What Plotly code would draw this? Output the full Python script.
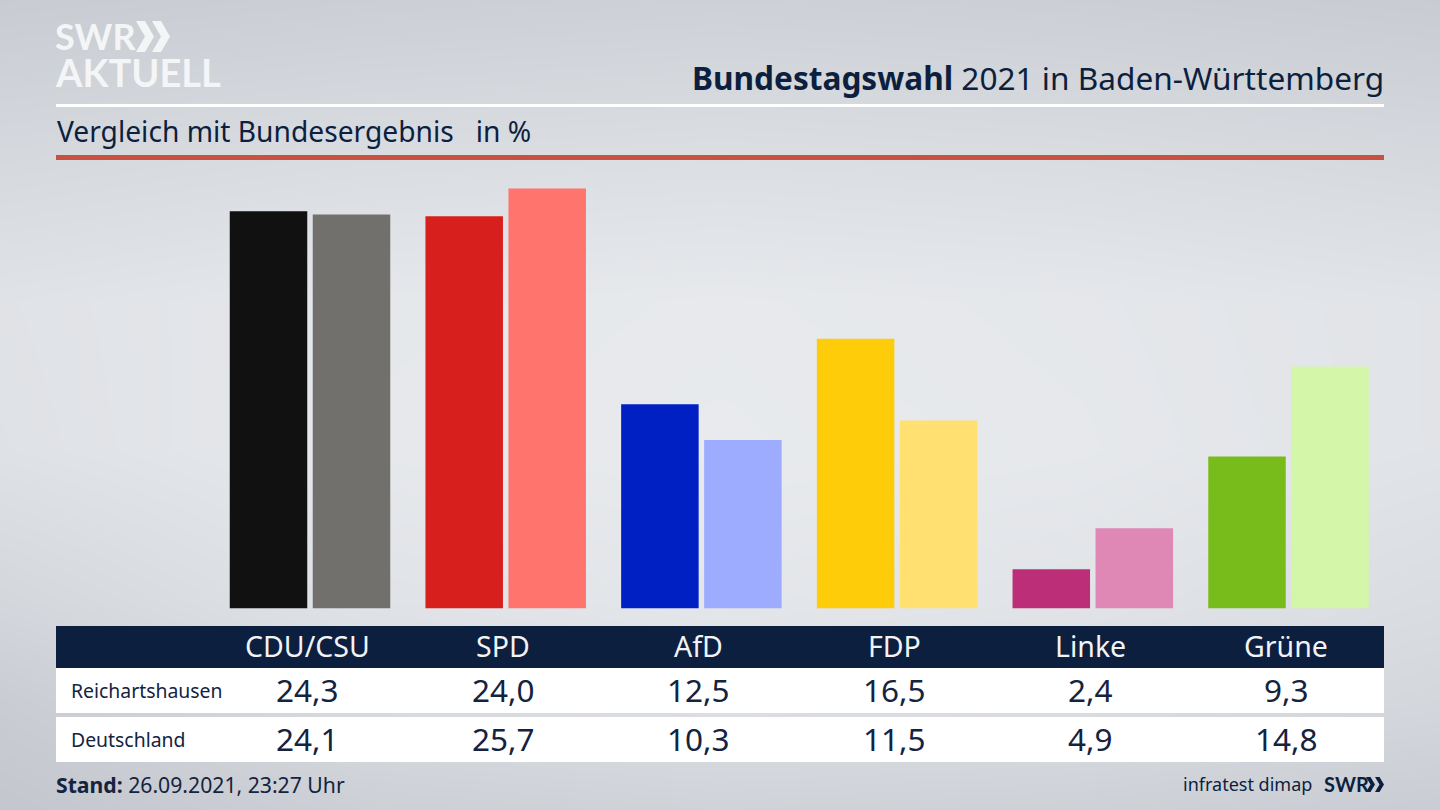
import plotly.graph_objects as go

parties = ["CDU/CSU", "SPD", "AfD", "FDP", "Linke", "Grüne"]
local_name = "Reichartshausen"
national_name = "Deutschland"
local_values = [24.3, 24.0, 12.5, 16.5, 2.4, 9.3]
national_values = [24.1, 25.7, 10.3, 11.5, 4.9, 14.8]
local_colors = ["#111111", "#d71f1d", "#0020c4", "#ffcc09", "#bd2e78", "#78bc1b"]
national_colors = ["#72706c", "#ff746c", "#9dacff", "#ffe070", "#df87b5", "#d3f6a9"]

NAVY = "#0c1f3f"
INK = "#14233f"
FONT = "Noto Sans"
LOGO = "Lato"
W, H = 1440, 810

def px(x):
    return x / W

def py(y):
    return 1 - y / H

# soft studio backdrop (brightness, left to right, top to bottom)
bg_x = [0, 360, 720, 1080, 1440]
bg_y = [0, 150, 300, 450, 600, 700, 810]
bg_z = [
    [203, 206, 208, 206, 203],
    [215, 219, 221, 219, 215],
    [226, 231, 233, 231, 227],
    [225, 232, 234, 232, 227],
    [214, 226, 230, 227, 220],
    [204, 218, 222, 220, 214],
    [198, 207, 210, 208, 204],
]

fig = go.Figure()
fig.add_trace(go.Heatmap(
    x=bg_x, y=bg_y, z=bg_z, zsmooth="best", showscale=False, hoverinfo="skip",
    zmin=190, zmax=240,
    colorscale=[[0, "rgb(187,191,198)"], [1, "rgb(238,240,243)"]],
    xaxis="x", yaxis="y",
))
fig.add_trace(go.Bar(name=local_name, x=parties, y=local_values,
                     marker=dict(color=local_colors, line=dict(width=0)), xaxis="x2", yaxis="y2"))
fig.add_trace(go.Bar(name=national_name, x=parties, y=national_values,
                     marker=dict(color=national_colors, line=dict(width=0)), xaxis="x2", yaxis="y2"))

shapes = []
def rect(x0, y0, x1, y1, color):
    shapes.append(dict(type="rect", xref="paper", yref="paper", x0=px(x0), x1=px(x1),
                       y0=py(y1), y1=py(y0), fillcolor=color, line=dict(width=0), layer="above"))

rect(56, 104, 1384, 107, "#ffffff")
rect(56, 155, 1384, 160, "#c8513f")
rect(56, 626, 1384, 668, NAVY)
rect(56, 668, 1384, 713, "#ffffff")
rect(56, 717, 1384, 762, "#ffffff")

def chevron(x, y, w, h, color):
    pts = [(x, y), (x + w * 0.5, y), (x + w, y + h / 2), (x + w * 0.5, y + h), (x, y + h), (x + w * 0.5, y + h / 2)]
    path = "M " + " L ".join(f"{px(a):.5f},{py(b):.5f}" for a, b in pts) + " Z"
    shapes.append(dict(type="path", xref="paper", yref="paper", path=path, fillcolor=color,
                       line=dict(width=0), layer="above"))

chevron(136, 21, 18, 31, "#f4f5f6")
chevron(152, 21, 18, 31, "#f4f5f6")
chevron(1366, 777, 9, 15, NAVY)
chevron(1375, 777, 9, 15, NAVY)

ann = []
def text(x, y, s, size, color=INK, anchor="left", family=FONT):
    ann.append(dict(x=px(x), y=py(y), xref="paper", yref="paper", text=s, showarrow=False,
                    xanchor=anchor, yanchor="middle", align=anchor, borderpad=0, borderwidth=0,
                    font=dict(size=size, color=color, family=family)))

text(55, 36, "<b>SWR</b>", 36, "#f4f5f6", family=LOGO)
text(55, 72, "<b>AKTUELL</b>", 38, "#f4f5f6", family=LOGO)
text(1384, 77, "<b>Bundestagswahl</b> 2021 in Baden-Württemberg", 31.6, NAVY, "right")
text(57, 131, "Vergleich mit Bundesergebnis&#160;&#160;&#160;in %", 28.2, NAVY)

centers = [307.5, 503, 698.5, 894, 1090, 1286]
for c, party, a, b in zip(centers, parties, local_values, national_values):
    text(c, 646, party, 28.5, "#f2f3f5", "center")
    text(c, 689, f"{a:.1f}".replace(".", ","), 31.5, INK, "center")
    text(c, 738, f"{b:.1f}".replace(".", ","), 31.5, INK, "center")
text(71, 690, local_name, 19.4, INK)
text(71, 739, national_name, 19.4, INK)
text(56, 784, "<b>Stand:</b> 26.09.2021, 23:27 Uhr", 21.2, INK)
text(1312, 784, "infratest dimap", 18, NAVY, "right")
text(1324, 784, "<b>SWR</b>", 20, NAVY, "left", LOGO)

plot_left = 212.15
plot_right = 1386.35
baseline = 608.4
plot_top = 160
unit = 16.34

fig.update_layout(
    width=W, height=H, margin=dict(l=0, r=0, t=0, b=0, pad=0),
    autosize=False, showlegend=False, barmode="group",
    bargap=0.1518, bargroupgap=0.0663,
    paper_bgcolor="#dfe1e5", plot_bgcolor="rgba(0,0,0,0)",
    font=dict(family=FONT),
    xaxis=dict(domain=[0, 1], range=[0, 1440], visible=False, fixedrange=True),
    yaxis=dict(domain=[0, 1], range=[810, 0], visible=False, fixedrange=True),
    xaxis2=dict(domain=[px(plot_left), px(plot_right)], range=[-0.5, 5.5], type="category",
                categoryorder="array", categoryarray=parties, visible=False, anchor="y2", fixedrange=True),
    yaxis2=dict(domain=[py(baseline), py(plot_top)], range=[0, (baseline - plot_top) / unit],
                visible=False, anchor="x2", fixedrange=True),
    shapes=shapes, annotations=ann,
)
fig.write_html("out.html", config=dict(displayModeBar=False),
               post_script="document.body.style.margin='0';document.body.style.overflow='hidden';")
